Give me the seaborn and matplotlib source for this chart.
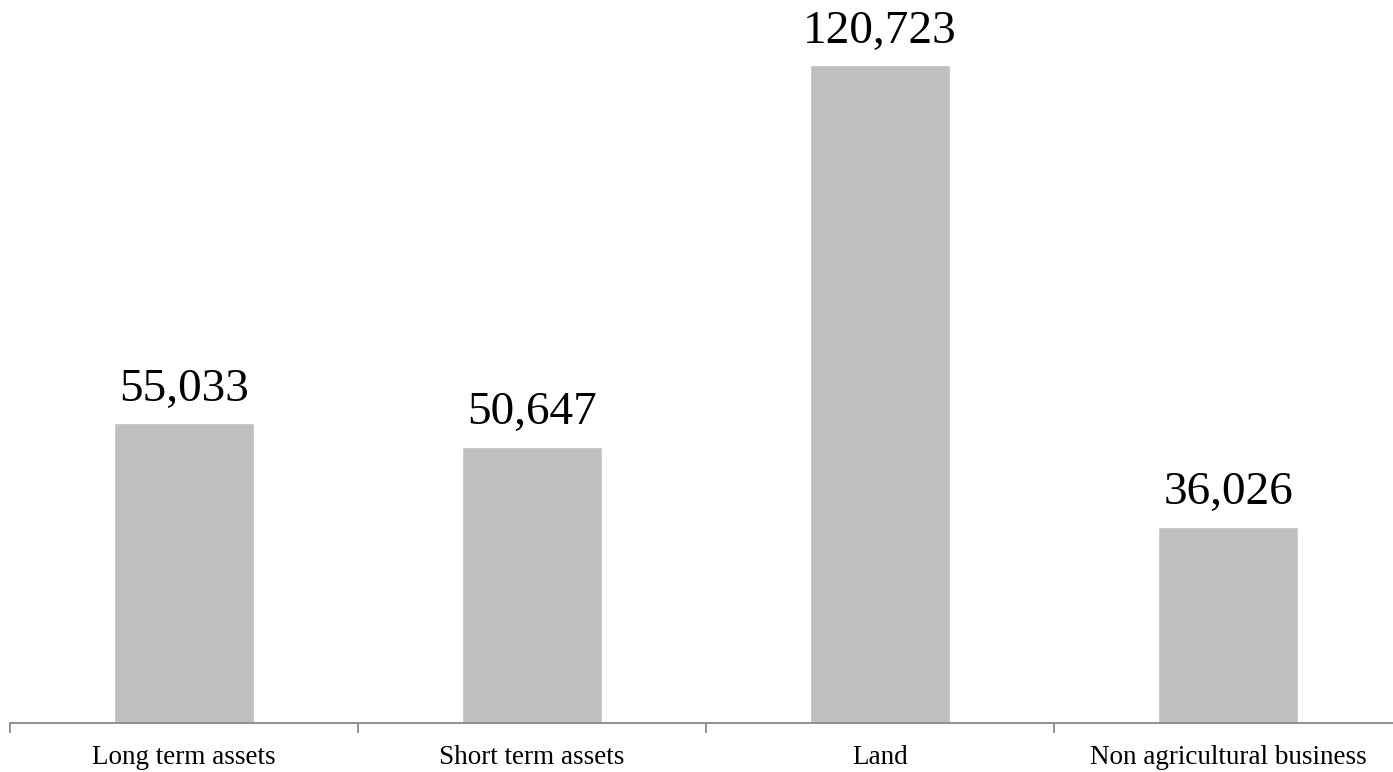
import matplotlib
matplotlib.use("Agg")
import matplotlib.pyplot as plt
import seaborn as sns
import pandas as pd

categories = ["Long term assets", "Short term assets", "Land", "Non agricultural business"]
values = [55033, 50647, 120723, 36026]

sns.set_theme(style="white")
plt.rcParams["font.family"] = ["Liberation Serif", "DejaVu Serif"]

df = pd.DataFrame({"category": categories, "value": values})

W, H = 1393, 772
fig = plt.figure(figsize=(W / 100, H / 100), dpi=100)
# axes spans from x=10px to x=1402px, baseline at y=723px from top
ax = fig.add_axes([10 / W, (H - 723) / H, 1392 / W, 723 / H])

sns.barplot(data=df, x="category", y="value", color="#BFBFBF", width=0.4,
            saturation=1, ax=ax)

ax.set_xlim(-0.5, 3.5)
ax.set_ylim(0, 132650)
ax.set_xlabel("")
ax.set_ylabel("")
ax.set_yticks([])

for s in ["top", "right", "left"]:
    ax.spines[s].set_visible(False)
ax.spines["bottom"].set_color("#898989")
ax.spines["bottom"].set_linewidth(1.3)

# category labels centred, boundary ticks between categories
ax.set_xticks(range(len(categories)))
ax.set_xticklabels(categories, fontsize=19.5, color="black")
ax.tick_params(axis="x", which="major", bottom=True, length=0, pad=16)
ax.set_xticks([-0.5, 0.5, 1.5, 2.5, 3.5], minor=True)
ax.tick_params(axis="x", which="minor", bottom=True, length=7, width=1.3,
               color="#898989", direction="out")

for i, v in enumerate(values):
    ax.annotate(f"{v:,}", xy=(i, v), xytext=(0, 9), textcoords="offset points",
                ha="center", va="bottom", fontsize=34, color="black")

fig.savefig("out.png", dpi=100)
